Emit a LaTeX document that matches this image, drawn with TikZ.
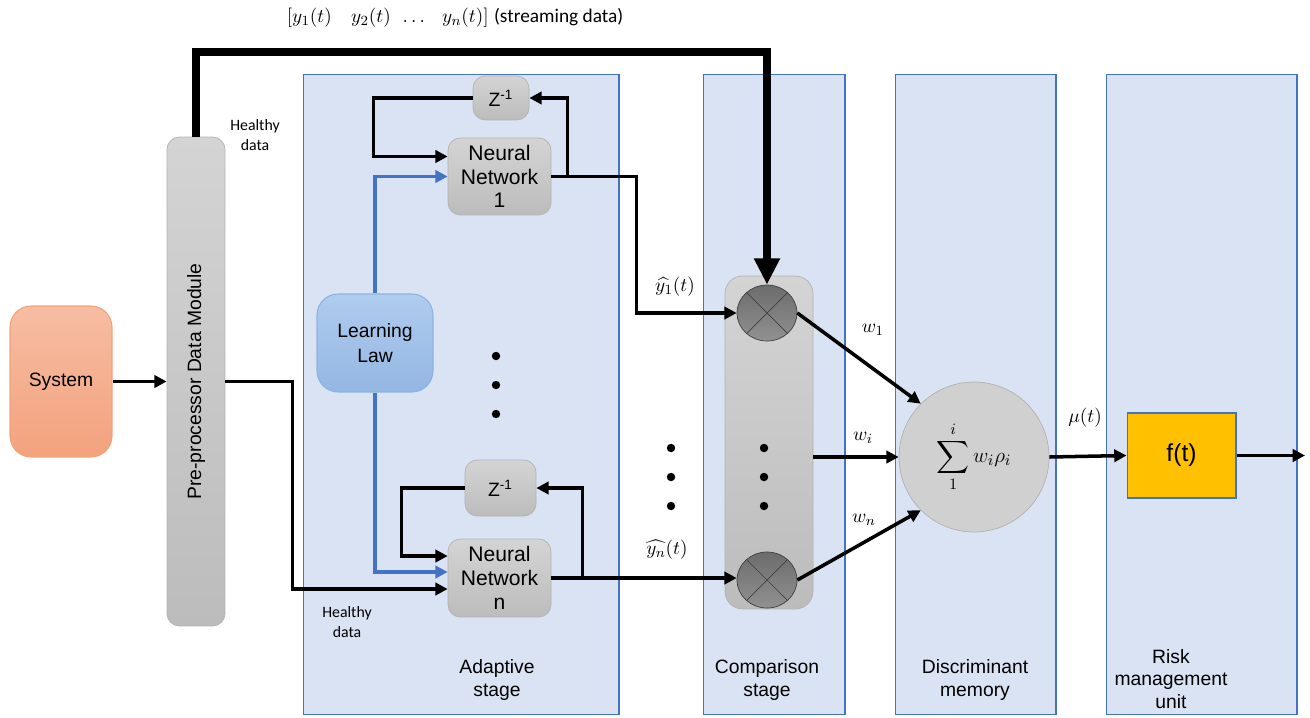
\documentclass[tikz,border=0pt]{standalone}
\usepackage{amsmath,amssymb}
\usepackage[no-math]{fontspec}
\setmainfont{Liberation Sans}
\newfontfamily\calibfont{Carlito}
\usetikzlibrary{arrows.meta,positioning,shapes.geometric}
\definecolor{panelfill}{HTML}{DAE3F3}
\definecolor{paneledge}{HTML}{4472C4}
\definecolor{boxtop}{HTML}{D4D4D4}
\definecolor{boxbot}{HTML}{BCBCBC}
\definecolor{boxedge}{HTML}{B2B2B2}
\definecolor{systop}{HTML}{F6BDA3}
\definecolor{sysbot}{HTML}{F3A27D}
\definecolor{sysedge}{HTML}{F2A27C}
\definecolor{lawtop}{HTML}{B0CCEE}
\definecolor{lawbot}{HTML}{93B7E3}
\definecolor{lawedge}{HTML}{8DB2E0}
\definecolor{lawline}{HTML}{4472C4}
\definecolor{xtop}{HTML}{6C6C6C}
\definecolor{xbot}{HTML}{919191}
\definecolor{sumfill}{HTML}{D0D0D0}
\definecolor{ftfill}{HTML}{FFC000}
\tikzset{
  >={Triangle[length=7pt,width=7pt]},
  panel/.style   ={draw=paneledge, line width=0.6pt, fill=panelfill, minimum height=12.82cm},
  gbox/.style    ={draw=boxedge, line width=0.4pt, rounded corners=7pt, top color=boxtop, bottom color=boxbot,
                   align=center, font=\fontsize{12}{13.5}\selectfont, inner sep=0pt},
  sysbox/.style  ={draw=sysedge, line width=0.6pt, rounded corners=12pt, top color=systop, bottom color=sysbot,
                   minimum width=2.04cm, minimum height=3.02cm, font=\fontsize{11}{13}\selectfont},
  lawbox/.style  ={draw=lawedge, line width=0.6pt, rounded corners=12pt, top color=lawtop, bottom color=lawbot,
                   minimum width=2.32cm, minimum height=1.96cm, align=center, font=\fontsize{11}{14}\selectfont},
  mult/.style    ={ellipse, draw=black!75, line width=0.4pt, top color=xtop, bottom color=xbot,
                   minimum width=1.2cm, minimum height=1.12cm, inner sep=0pt},
  flow/.style    ={->, line width=2pt},
  lawflow/.style ={->, line width=2pt, draw=lawline, color=lawline},
  stream/.style  ={-{Triangle[length=15pt,width=14pt]}, line width=4.6pt},
  stagelbl/.style={align=center, font=\fontsize{11}{13}\selectfont},
  note/.style    ={align=center, font=\calibfont\fontsize{9}{11}\selectfont},
  ml/.style      ={font=\fontsize{11}{13}\selectfont, inner sep=1pt}
}
\begin{document}
\begin{tikzpicture}[x=0.02cm, y=-0.02cm]
\useasboundingbox (0,0) rectangle (1310,717);
% stage panels
\node[panel, minimum width=6.32cm] (adapt) at (461,394.5) {};
\node[panel, minimum width=2.84cm] (comp) at (774,394.5) {};
\node[panel, minimum width=3.22cm] (disc) at (975.5,394.5) {};
\node[panel, minimum width=3.82cm] (risk) at (1201.5,394.5) {};
\node[stagelbl] (adaptlbl) at (497,680) {Adaptive\\stage};
\node[stagelbl] (complbl) at (767,680) {Comparison\\stage};
\node[stagelbl] (disclbl) at (975,680) {Discriminant\\memory};
\node[stagelbl] (risklbl) at (1171,679) {Risk\\management\\unit};

% blocks
\node[sysbox] (sys) at (61,381.5) {System};
\node[gbox, minimum width=1.16cm, minimum height=9.78cm] (pre) at (196,381.5) {};
\node[rotate=90, font=\fontsize{11}{13}\selectfont] (prelbl) at (pre.center) {Pre-processor Data Module};
\node[gbox, minimum width=1.12cm, minimum height=0.88cm, font=\fontsize{11}{13}\selectfont] (Z1) at (501,98) {Z\textsuperscript{-1}};
\node[gbox, minimum width=2.06cm, minimum height=1.54cm] (NN1) at (499.5,176.5) {Neural\\Network\\1};
\node[gbox, minimum width=1.42cm, minimum height=1.12cm, font=\fontsize{11}{13}\selectfont] (Zn) at (500.5,488) {Z\textsuperscript{-1}};
\node[gbox, minimum width=2.06cm, minimum height=1.56cm] (NNn) at (499.5,578) {Neural\\Network\\n};
\node[lawbox] (law) at (375,343) {Learning\\Law};
\node[gbox, rounded corners=10pt, minimum width=1.76cm, minimum height=6.66cm] (cbar) at (769,442.5) {};
\node[mult] (X1) at (767,313) {};
\node[mult] (Xn) at (767,580) {};
\foreach \m in {X1,Xn}
  \draw[black!75, line width=0.4pt] (\m.45) -- (\m.225) (\m.135) -- (\m.315);
\node[circle, draw=boxedge, line width=0.4pt, fill=sumfill, minimum size=3cm, font=\fontsize{13}{15}\selectfont] (sum) at (974,457)
  {$\displaystyle\sum_{1}^{i} w_i\rho_i$};
\node[draw=paneledge, line width=0.6pt, fill=ftfill, minimum width=2.18cm, minimum height=1.7cm, font=\fontsize{14}{16}\selectfont] (ft) at (1181.5,455.5) {f(t)};

% dots
\foreach \y in {356,385,414} \fill (496,\y) circle (2.4pt);
\foreach \y in {448,477,506} {
  \fill (764,\y) circle (2.4pt);
  \fill (671,\y) circle (2.4pt);
}

% texts
\node[ml] (streamlbl) at (455,18) {$[y_1(t)\quad y_2(t)\;\,\ldots\;\;\, y_n(t)]$ {\calibfont(streaming data)}};
\node[note] (healthy1) at (255,135) {Healthy\\data};
\node[note] (healthy2) at (347,622) {Healthy\\data};
\node[ml] (yhat1) at (675,287) {$\widehat{y_1}(t)$};
\node[ml] (yhatn) at (667,550) {$\widehat{y_n}(t)$};
\node[ml] (w1) at (873,330) {$w_1$};
\node[ml] (wi) at (863,438) {$w_i$};
\node[ml] (wn) at (864,520) {$w_n$};
\node[ml] (mu) at (1085,418) {$\mu(t)$};

% connectors
\coordinate (bend) at (196,52);
\draw[stream] (pre.north) -- (bend) -| (X1.north);
\draw[flow] (sys) -- (pre);
\draw[flow] (pre.east) -- ++(67,0) |- ([yshift=-0.22cm]NNn.west);
% network 1 loop
\draw[flow] (NN1.east) -- ++(85,0) |- (X1.west);
\draw[flow] ([xshift=0.32cm]NN1.east) |- (Z1.east);
\draw[flow] (Z1.west) -- ++(-99,0) |- ([yshift=0.4cm]NN1.west);
% network n loop
\draw[flow] (NNn.east) -- (NNn.east -| Xn.west);
\draw[flow] ([xshift=0.62cm]NNn.east) |- (Zn.east);
\draw[flow] (Zn.west) -- ++(-63,0) |- ([yshift=0.44cm]NNn.west);
% learning law
\draw[lawflow] (law.north) |- (NN1.west);
\draw[lawflow] (law.south) |- ([yshift=0.12cm]NNn.west);
% weighting
\draw[flow] (X1.east) -- (sum.135);
\draw[flow] (cbar.east |- sum.west) -- (sum.west);
\draw[flow] (Xn.east) -- (sum.225);
\draw[flow] (sum.east) -- (ft.west);
\coordinate (out) at (1305,455.5);
\draw[flow] (ft.east) -- (out);
\end{tikzpicture}
\end{document}
